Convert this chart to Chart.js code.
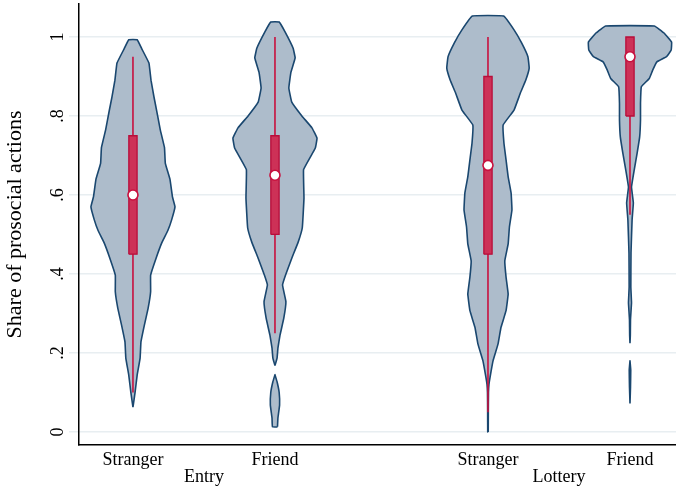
<!DOCTYPE html>
<html><head><meta charset="utf-8">
<style>html,body{margin:0;padding:0;background:#fff}#wrap{width:676px;height:488px}</style>
<script src="https://cdn.jsdelivr.net/npm/chart.js@4.4.1/dist/chart.umd.min.js"></script>
</head><body><div id="wrap"><canvas id="c" width="676" height="488"></canvas></div>
<script>
// ---------- data ----------
const categories = ['Stranger', 'Friend', 'Stranger', 'Friend'];
const groups = ['Entry', 'Lottery'];
const positions = [1, 2, 3.5, 4.5];
const yTicks = [0, 0.2, 0.4, 0.6, 0.8, 1];
const yTickLabels = ['0', '.2', '.4', '.6', '.8', '1'];
const yTitle = 'Share of prosocial actions';

// kernel density profiles (normalised to each violin's maximum); null = gap
const strangerEntryY = [0.063,0.10,0.144,0.187,0.228,0.27,0.313,0.355,0.397,0.44,0.48,0.51,0.537,0.57,0.595,0.64,0.68,0.72,0.765,0.81,0.848,0.89,0.934,0.97,0.993];
const strangerEntryD = [0,0.05,0.1,0.17,0.19,0.27,0.36,0.42,0.42,0.55,0.69,0.83,0.92,1,0.94,0.88,0.77,0.75,0.65,0.57,0.5,0.43,0.38,0.21,0.1];

const friendEntryY = [0.013,0.035,0.068,0.10,0.127,0.145,0.155,0.168,0.187,0.212,0.245,0.288,0.33,0.372,0.397,0.44,0.48,0.517,0.592,0.664,0.694,0.719,0.744,0.77,0.80,0.835,0.871,0.911,0.947,0.972,1.013,1.038];
const friendEntryD = [0.06,0.07,0.11,0.1,0.05,0,null,0,0.05,0.07,0.12,0.21,0.26,0.18,0.25,0.4,0.55,0.65,0.69,0.68,0.83,0.96,1,0.88,0.64,0.4,0.33,0.38,0.48,0.43,0.24,0.1];

const strangerLotteryY = [0.0,0.05,0.10,0.121,0.139,0.18,0.223,0.265,0.307,0.349,0.392,0.433,0.476,0.519,0.562,0.605,0.646,0.689,0.731,0.777,0.815,0.858,0.891,0.921,0.95,0.985,1.018,1.053];
const strangerLotteryD = [0.006,0.008,0.012,0.024,0.05,0.12,0.24,0.31,0.43,0.48,0.43,0.4,0.48,0.51,0.57,0.55,0.48,0.43,0.38,0.36,0.62,0.77,0.9,0.98,0.95,0.8,0.62,0.37];

const friendLotteryY = [0.072,0.114,0.157,0.18,0.2,0.225,0.245,0.284,0.327,0.367,0.453,0.537,0.58,0.62,0.663,0.706,0.747,0.79,0.832,0.874,0.895,0.916,0.937,0.95,0.967,0.987,1.01,1.028];
const friendLotteryD = [0,0.012,0.018,0,null,0,0.008,0.012,0.036,0.02,0.024,0.05,0.08,0.036,0.1,0.17,0.23,0.25,0.25,0.27,0.46,0.54,0.64,0.87,0.98,0.99,0.81,0.58];

// box plot statistics per category
const whiskerLow  = [0.10, 0.25, 0.05, 0.55];
const quart1      = [0.45, 0.50, 0.45, 0.80];
const medians     = [0.60, 0.65, 0.675, 0.95];
const quart3      = [0.75, 0.75, 0.90, 1.00];
const whiskerHigh = [0.95, 1.00, 1.00, 1.00];

// ---------- styling / geometry ----------
const VIOLIN_HALF = 0.296;   // x-units for density 1
const BOX_HALF = 0.029;
const violinFill = '#adbccb', violinEdge = '#1a476f';
const red = '#c8103e', boxFill = '#cd3157', boxEdge = '#b80d3a';
const serif = '"Liberation Serif", "Times New Roman", serif';

const profiles = [
  [strangerEntryY, strangerEntryD],
  [friendEntryY, friendEntryD],
  [strangerLotteryY, strangerLotteryD],
  [friendLotteryY, friendLotteryD]
];

function polygons(center, ys, ds) {
  const segs = []; let cur = [];
  ys.forEach((y, i) => {
    if (ds[i] === null) { if (cur.length) segs.push(cur); cur = []; }
    else cur.push([y, ds[i]]);
  });
  if (cur.length) segs.push(cur);
  return segs.map(seg => {
    const right = seg.map(([y, d]) => ({x: center + d * VIOLIN_HALF, y}));
    const left = seg.map(([y, d]) => ({x: center - d * VIOLIN_HALF, y})).reverse();
    return right.concat(left, [right[0]]);
  });
}

const datasets = [];
profiles.forEach(([ys, ds], i) => {
  polygons(positions[i], ys, ds).forEach(poly => datasets.push({
    data: poly, borderColor: violinEdge, backgroundColor: violinFill, borderWidth: 1.6,
    borderJoinStyle: 'round', fill: 'shape', pointRadius: 0, tension: 0.08, order: 4
  }));
});
positions.forEach((p, i) => {
  datasets.push({
    data: [{x: p, y: whiskerLow[i]}, {x: p, y: whiskerHigh[i]}],
    borderColor: red, borderWidth: 1.6, pointRadius: 0, fill: false, order: 3
  });
  datasets.push({
    data: [{x: p - BOX_HALF, y: quart1[i]}, {x: p + BOX_HALF, y: quart1[i]}, {x: p + BOX_HALF, y: quart3[i]},
           {x: p - BOX_HALF, y: quart3[i]}, {x: p - BOX_HALF, y: quart1[i]}],
    borderColor: boxEdge, backgroundColor: boxFill, borderWidth: 1.3, fill: 'shape',
    pointRadius: 0, tension: 0, order: 2
  });
});
datasets.push({
  data: positions.map((p, i) => ({x: p, y: medians[i]})),
  showLine: false, pointRadius: 5, pointBackgroundColor: '#ffffff', pointBorderColor: red,
  pointBorderWidth: 1.6, order: 1
});

const textPlugin = {
  id: 'texts',
  afterDraw(chart) {
    const {ctx, scales: {x, y}} = chart;
    ctx.save();
    ctx.fillStyle = '#000';
    ctx.textAlign = 'center';
    ctx.textBaseline = 'middle';
    ctx.font = '18px ' + serif;
    categories.forEach((c, i) => ctx.fillText(c, x.getPixelForValue(positions[i]), y.bottom + 15));
    groups.forEach((g, i) => {
      const cx = (x.getPixelForValue(positions[2 * i]) + x.getPixelForValue(positions[2 * i + 1])) / 2;
      ctx.fillText(g, cx, y.bottom + 32);
    });
    yTicks.forEach((v, i) => {
      ctx.save();
      ctx.translate(x.left - 21, y.getPixelForValue(v));
      ctx.rotate(-Math.PI / 2);
      ctx.fillText(yTickLabels[i], 0, 0);
      ctx.restore();
    });
    ctx.font = '22px ' + serif;
    ctx.translate(15, (y.top + y.bottom) / 2);
    ctx.rotate(-Math.PI / 2);
    ctx.fillText(yTitle, 0, 0);
    ctx.restore();
  }
};

new Chart(document.getElementById('c'), {
  type: 'line',
  data: {datasets},
  options: {
    responsive: false, animation: false,
    layout: {autoPadding: false, padding: {left: 69, right: 0, top: 4, bottom: 43}},
    plugins: {legend: {display: false}, tooltip: {enabled: false}},
    scales: {
      x: {
        type: 'linear', min: 0.62, max: 4.824, offset: false,
        ticks: {display: false},
        grid: {display: false, drawTicks: false},
        border: {display: true, color: '#000', width: 1.5}
      },
      y: {
        type: 'linear', min: -0.033, max: 1.0835,
        afterBuildTicks: s => { s.ticks = yTicks.map(v => ({value: v})); },
        ticks: {display: false},
        grid: {color: '#e8eef1', lineWidth: 1.5, drawTicks: true, tickLength: 10, tickColor: '#e8eef1'},
        border: {display: true, color: '#000', width: 1.5}
      }
    }
  },
  plugins: [textPlugin]
});
</script>
</body></html>
